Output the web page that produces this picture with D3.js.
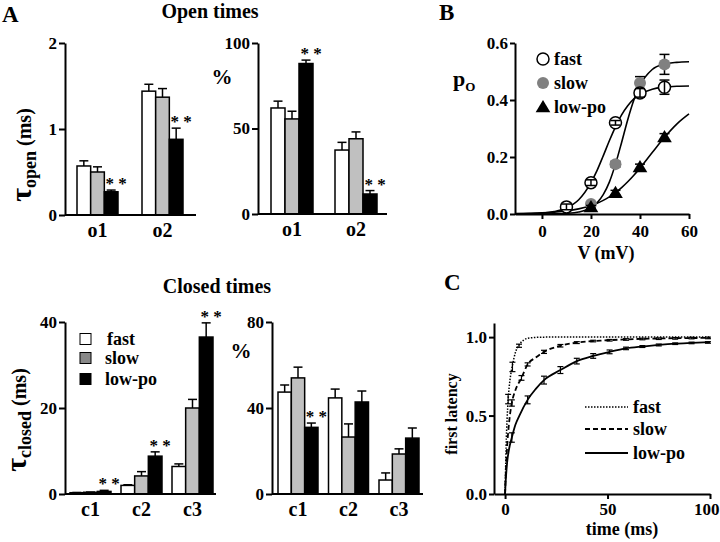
<!DOCTYPE html>
<html><head><meta charset="utf-8">
<script src="https://cdn.jsdelivr.net/npm/d3@7"></script>
<style>
body{margin:0;background:#fff}
svg{display:block}
text{font-family:"Liberation Serif","Times New Roman",serif;font-weight:bold;fill:#000}
</style>
</head><body>
<svg id="chart" width="720" height="542"></svg>
<script>
// ---------- DATA ----------
const groups = ["fast", "slow", "low-po"];
const openCats = ["o1", "o2"];
const closedCats = ["c1", "c2", "c3"];
// [fast, slow, low-po] per category
const openTauMean = [[0.57, 0.50, 0.27], [1.44, 1.37, 0.88]];
const openTauErr  = [[0.06, 0.06, 0.02], [0.08, 0.10, 0.13]];
const openPctMean = [[62, 55.6, 88], [37.4, 44, 11.7]];
const openPctErr  = [[4, 4.5, 2], [4.5, 4, 2]];
const closedTauMean = [[0.3, 0.4, 0.6], [2.0, 4.2, 8.8], [6.4, 20, 36.5]];
const closedTauErr  = [[0.05, 0.05, 0.25], [0.15, 1.0, 1.0], [0.6, 2.0, 3.3]];
const closedPctMean = [[47.4, 54, 31], [44.7, 26.5, 42.8], [6.5, 18.6, 26]];
const closedPctErr  = [[3.3, 5, 2], [4.1, 6.1, 5.1], [3.3, 2.4, 4.7]];
const openTauSig = [true, true];
const openPctSig = [true, true];
const closedTauSig = [true, true, true];
const closedPctSig = [true, false, false];
const openTauTicks = [0, 1, 2];
const openPctTicks = [0, 50, 100];
const closedTauTicks = [0, 20, 40];
const closedPctTicks = [0, 40, 80];

// Panel B: open probability vs voltage
const bFastV = [10, 20, 30, 40, 50];
const bFastPo = [0.025, 0.11, 0.32, 0.425, 0.445];
const bFastErr = [0.01, 0.01, 0.008, 0.015, 0.025];
const bSlowV = [20, 30, 40, 50];
const bSlowPo = [0.035, 0.175, 0.46, 0.525];
const bSlowErr = [0.008, 0.01, 0.022, 0.035];
const bLowV = [20, 30, 40, 50];
const bLowPo = [0.025, 0.075, 0.165, 0.27];
const bLowErr = [0.005, 0.008, 0.01, 0.012];
const bCurveV = [-11, -5, 0, 5, 10, 15, 20, 22.5, 25, 27.5, 30, 32.5, 35, 37.5, 40, 45, 50, 55, 60];
const bFastCurve = [0.0004, 0.0013, 0.0033, 0.0084, 0.021, 0.050, 0.110, 0.153, 0.204, 0.257, 0.306, 0.348, 0.380, 0.404, 0.420, 0.438, 0.445, 0.448, 0.449];
const bSlowCurve = [0, 0, 0.0002, 0.0006, 0.0021, 0.0069, 0.0224, 0.0395, 0.068, 0.112, 0.175, 0.251, 0.331, 0.400, 0.451, 0.507, 0.526, 0.532, 0.534];
const bLowCurve  = [0.0012, 0.0023, 0.0038, 0.0065, 0.0108, 0.018, 0.0296, 0.0377, 0.0478, 0.060, 0.075, 0.0925, 0.113, 0.136, 0.161, 0.2155, 0.269, 0.3155, 0.351];
const bXTicks = [0, 20, 40, 60];
const bYTicks = [0, 0.2, 0.4, 0.6];

// Panel C: first latency cumulative
const cFastT = [0, 0.25, 0.5, 1, 1.5, 2, 3, 3.6, 5, 6.8, 9, 12, 20, 40, 60, 80, 100];
const cFastY = [0, 0.15, 0.3, 0.48, 0.6, 0.68, 0.78, 0.82, 0.9, 0.95, 0.98, 0.995, 1, 1, 1, 1, 1];
const cSlowT = [0, 0.25, 0.5, 1, 2, 3.3, 5, 8, 11, 15, 19, 27, 35, 50, 70, 100];
const cSlowY = [0, 0.1, 0.18, 0.3, 0.46, 0.58, 0.66, 0.74, 0.826, 0.87, 0.906, 0.945, 0.965, 0.98, 0.99, 0.995];
const cLowT = [0, 0.25, 0.5, 1, 2, 3.3, 5, 7, 11, 15, 19, 27, 35, 43, 51, 59, 67, 75, 83, 91, 100];
const cLowY = [0, 0.07, 0.12, 0.2, 0.29, 0.36, 0.44, 0.5, 0.6, 0.67, 0.726, 0.79, 0.847, 0.88, 0.906, 0.928, 0.94, 0.95, 0.958, 0.963, 0.968];
const cFastErrT = [1.5, 3.6, 6.8];
const cFastErrY = [0.605, 0.81, 0.945];
const cFastErrE = [0.03, 0.03, 0.01];
const cSlowErrT = [3.3, 8, 11, 19, 27, 35, 43, 51, 59, 67, 75, 83, 91, 99];
const cSlowErrY = [0.58, 0.74, 0.826, 0.906, 0.945, 0.965, 0.975, 0.98, 0.985, 0.988, 0.99, 0.992, 0.994, 0.995];
const cSlowErrE = [0.02, 0.015, 0.01, 0.01, 0.008, 0.006, 0.005, 0.005, 0.005, 0.005, 0.005, 0.005, 0.005, 0.005];
const cLowErrT = [3.3, 11, 19, 27, 35, 43, 51, 59, 67, 75, 83, 91, 99];
const cLowErrY = [0.36, 0.6, 0.726, 0.79, 0.847, 0.88, 0.906, 0.928, 0.94, 0.95, 0.958, 0.963, 0.966];
const cLowErrE = [0.03, 0.025, 0.025, 0.022, 0.018, 0.015, 0.012, 0.008, 0.006, 0.006, 0.005, 0.005, 0.005];
const cXTicks = [0, 50, 100];
const cYTicks = [0, 0.5, 1.0];

// ---------- DRAWING ----------
const svg = d3.select("#chart");
const barFill = ["#ffffff", "#c0c0c0", "#000000"];

function styleAxis(g, fs) {
  g.selectAll("path,line").attr("stroke", "#000").attr("stroke-width", 2);
  g.selectAll("text").style("font-size", fs + "px").style("font-weight", "bold")
    .style("font-family", '"Liberation Serif","Times New Roman",serif').attr("fill", "#000");
}

function barChart(o) {
  const y = d3.scaleLinear().domain(o.yDomain).range(o.yRange);
  const n = o.cats.length;
  const x = d3.scaleBand().domain(o.cats)
    .range([o.bandStart, o.bandStart + o.step * (n - 1) + o.bw])
    .paddingInner(1 - o.bw / o.step).paddingOuter(0);
  const xi = d3.scaleBand().domain([0, 1, 2]).range([0, x.bandwidth()]).padding(0);
  const g = svg.append("g");
  o.cats.forEach((c, ci) => {
    [0, 1, 2].forEach(si => {
      const v = o.means[ci][si], e = o.errs[ci][si];
      const bx = x(c) + xi(si), bw = xi.bandwidth();
      const cx = bx + bw / 2;
      g.append("line").attr("x1", cx).attr("x2", cx).attr("y1", y(v)).attr("y2", y(v + e))
        .attr("stroke", "#000").attr("stroke-width", 1.5);
      g.append("line").attr("x1", cx - 4.5).attr("x2", cx + 4.5).attr("y1", y(v + e)).attr("y2", y(v + e))
        .attr("stroke", "#000").attr("stroke-width", 1.5);
      g.append("rect").attr("x", bx).attr("y", y(v)).attr("width", bw).attr("height", y(0) - y(v))
        .attr("fill", barFill[si]).attr("stroke", "#000").attr("stroke-width", 1.5);
    });
    if (o.sig[ci]) {
      const bx = x(c) + xi(2) + xi.bandwidth() / 2 + 5;
      const top = y(o.means[ci][2] + o.errs[ci][2]);
      g.append("text").attr("x", bx).attr("y", top - 1).attr("text-anchor", "middle")
        .style("font-size", "17px").text("* *");
    }
  });
  const ya = g.append("g").attr("transform", `translate(${o.axisX},0)`)
    .call(d3.axisLeft(y).tickValues(o.ticks).tickSize(6).tickSizeOuter(0).tickPadding(2).tickFormat(d3.format("d")));
  styleAxis(ya, 17);
  g.append("line").attr("x1", o.axisX).attr("x2", o.axisEnd).attr("y1", y(0)).attr("y2", y(0))
    .attr("stroke", "#000").attr("stroke-width", 2);
  const xa = g.append("g").attr("transform", `translate(0,${y(0)})`)
    .call(d3.axisBottom(x).tickSize(0).tickPadding(8));
  xa.select(".domain").remove();
  styleAxis(xa, 20);
  return g;
}

barChart({cats: openCats, means: openTauMean, errs: openTauErr, sig: openTauSig, yDomain: [0, 2], yRange: [215, 43],
  ticks: openTauTicks, axisX: 65, axisEnd: 196, bandStart: 77, step: 65, bw: 41});
barChart({cats: openCats, means: openPctMean, errs: openPctErr, sig: openPctSig, yDomain: [0, 100], yRange: [214, 43],
  ticks: openPctTicks, axisX: 258, axisEnd: 387, bandStart: 271, step: 64, bw: 42});
barChart({cats: closedCats, means: closedTauMean, errs: closedTauErr, sig: closedTauSig, yDomain: [0, 40], yRange: [494, 322],
  ticks: closedTauTicks, axisX: 65, axisEnd: 216, bandStart: 70, step: 51, bw: 41});
barChart({cats: closedCats, means: closedPctMean, errs: closedPctErr, sig: closedPctSig, yDomain: [0, 80], yRange: [494, 322],
  ticks: closedPctTicks, axisX: 272, axisEnd: 423, bandStart: 278, step: 50.5, bw: 40});

// titles and labels, panel A
svg.append("text").attr("x", 2).attr("y", 22).style("font-size", "23px").text("A");
svg.append("text").attr("x", 210).attr("y", 18).attr("text-anchor", "middle").style("font-size", "20px").text("Open times");
svg.append("text").attr("x", 217).attr("y", 293).attr("text-anchor", "middle").style("font-size", "20px").text("Closed times");
svg.append("text").attr("x", 222).attr("y", 84).attr("text-anchor", "middle").style("font-size", "21px").text("%");
svg.append("text").attr("x", 241).attr("y", 358).attr("text-anchor", "middle").style("font-size", "21px").text("%");

function tauLabel(x, y, sub) {
  const t = svg.append("text").attr("transform", `translate(${x},${y}) rotate(-90)`).attr("text-anchor", "middle");
  t.append("tspan").style("font-size", "30px").text("\u03C4");
  t.append("tspan").style("font-size", "18px").attr("dy", 5).text(sub);
  t.append("tspan").style("font-size", "20px").attr("dy", -5).text(" (ms)");
}
tauLabel(31, 155, "open");
tauLabel(26, 420, "closed");

// closed legend
const legY = [339, 358, 379];
const legFill = ["#ffffff", "#888888", "#000000"];
groups.forEach((gname, i) => {
  svg.append("rect").attr("x", 80).attr("y", legY[i] - 5.5).attr("width", 11).attr("height", 11)
    .attr("fill", legFill[i]).attr("stroke", "#000").attr("stroke-width", 1);
  svg.append("text").attr("x", i === 0 ? 107 : 105).attr("y", legY[i] + 6).style("font-size", "18px").text(gname);
});

// ---------- Panel B ----------
const bx = d3.scaleLinear().domain([-11, 60]).range([515, 689]);
const by = d3.scaleLinear().domain([0, 0.6]).range([214, 43]);
svg.append("text").attr("x", 439).attr("y", 20).style("font-size", "23px").text("B");
const bLine = d3.line().x(d => bx(d[0])).y(d => by(d[1])).curve(d3.curveMonotoneX);
[bFastCurve, bSlowCurve, bLowCurve].forEach(arr => {
  svg.append("path").attr("d", bLine(bCurveV.map((v, i) => [v, arr[i]])))
    .attr("fill", "none").attr("stroke", "#000").attr("stroke-width", 1.6);
});
function errB(V, P, E) {
  V.forEach((v, i) => {
    const x = bx(v);
    svg.append("line").attr("x1", x).attr("x2", x).attr("y1", by(P[i] - E[i])).attr("y2", by(P[i] + E[i])).attr("stroke", "#000").attr("stroke-width", 1.5);
    [P[i] - E[i], P[i] + E[i]].forEach(q => svg.append("line").attr("x1", x - 5).attr("x2", x + 5).attr("y1", by(q)).attr("y2", by(q)).attr("stroke", "#000").attr("stroke-width", 1.5));
  });
}
function triPath(cx, cy, s) {
  return `M${cx},${cy - s}L${cx + s * 1.05},${cy + s * 0.75}L${cx - s * 1.05},${cy + s * 0.75}Z`;
}
errB(bSlowV, bSlowPo, bSlowErr);
bSlowV.forEach((v, i) => svg.append("circle").attr("cx", bx(v)).attr("cy", by(bSlowPo[i])).attr("r", 6).attr("fill", "#808080"));
bFastV.forEach((v, i) => svg.append("circle").attr("cx", bx(v)).attr("cy", by(bFastPo[i])).attr("r", 6).attr("fill", "#fff").attr("stroke", "#000").attr("stroke-width", 1.5));
errB(bFastV, bFastPo, bFastErr);
errB(bLowV, bLowPo, bLowErr);
bLowV.forEach((v, i) => svg.append("path").attr("d", triPath(bx(v), by(bLowPo[i]), 7)).attr("fill", "#000"));

const bya = svg.append("g").attr("transform", "translate(515,0)")
  .call(d3.axisLeft(by).tickValues(bYTicks).tickSize(5).tickSizeOuter(0).tickPadding(2).tickFormat(d3.format(".1f")));
styleAxis(bya, 17);
const bxa = svg.append("g").attr("transform", "translate(0,214)")
  .call(d3.axisBottom(bx).tickValues(bXTicks).tickSize(5).tickSizeOuter(0).tickPadding(6).tickFormat(d3.format("d")));
styleAxis(bxa, 17);
svg.append("text").attr("x", 606).attr("y", 259).attr("text-anchor", "middle").style("font-size", "18px").text("V (mV)");
const po = svg.append("text").attr("x", 453).attr("y", 86).style("font-size", "22px");
po.append("tspan").text("p");
po.append("tspan").attr("dy", 5).style("font-size", "13px").text("O");
const bLegY = [59, 83, 107];
svg.append("circle").attr("cx", 543).attr("cy", bLegY[0]).attr("r", 6).attr("fill", "#fff").attr("stroke", "#000").attr("stroke-width", 1.5);
svg.append("circle").attr("cx", 543).attr("cy", bLegY[1]).attr("r", 6).attr("fill", "#808080");
svg.append("path").attr("d", triPath(543, bLegY[2], 7)).attr("fill", "#000");
groups.forEach((gname, i) => svg.append("text").attr("x", 554).attr("y", bLegY[i] + 6).style("font-size", "18px").text(gname));

// ---------- Panel C ----------
const cx = d3.scaleLinear().domain([-5.4, 100]).range([494, 710]);
const cy = d3.scaleLinear().domain([0, 1.09]).range([494, 323]);
svg.append("text").attr("x", 444).attr("y", 290).style("font-size", "23px").text("C");
const cLine = d3.line().x(d => cx(d[0])).y(d => cy(d[1])).curve(d3.curveMonotoneX);
const cStyles = [{dash: "1.5,1.5", w: 1.5}, {dash: "5,3", w: 1.8}, {dash: null, w: 1.8}];
[[cFastT, cFastY], [cSlowT, cSlowY], [cLowT, cLowY]].forEach((s, k) => {
  svg.append("path").attr("d", cLine(s[0].map((t, i) => [t, s[1][i]])))
    .attr("fill", "none").attr("stroke", "#000").attr("stroke-width", cStyles[k].w)
    .attr("stroke-dasharray", cStyles[k].dash);
});
function errC(T, Y, E) {
  T.forEach((t, i) => {
    const x = cx(t);
    svg.append("line").attr("x1", x).attr("x2", x).attr("y1", cy(Y[i] - E[i])).attr("y2", cy(Y[i] + E[i])).attr("stroke", "#000").attr("stroke-width", 1.2);
    [Y[i] - E[i], Y[i] + E[i]].forEach(q => svg.append("line").attr("x1", x - 3).attr("x2", x + 3).attr("y1", cy(q)).attr("y2", cy(q)).attr("stroke", "#000").attr("stroke-width", 1.2));
  });
}
errC(cFastErrT, cFastErrY, cFastErrE);
errC(cSlowErrT, cSlowErrY, cSlowErrE);
errC(cLowErrT, cLowErrY, cLowErrE);
const cya = svg.append("g").attr("transform", "translate(494,0)")
  .call(d3.axisLeft(cy).tickValues(cYTicks).tickSize(5).tickSizeOuter(0).tickPadding(2).tickFormat(d3.format(".1f")));
styleAxis(cya, 17);
const cxa = svg.append("g").attr("transform", "translate(0,494)")
  .call(d3.axisBottom(cx).tickValues(cXTicks).tickSize(5).tickSizeOuter(0).tickPadding(4).tickFormat(d3.format("d")));
styleAxis(cxa, 17);
cxa.selectAll(".tick text").filter(d => d === 100).attr("text-anchor", "end").attr("dx", 9);
svg.append("text").attr("x", 622).attr("y", 535).attr("text-anchor", "middle").style("font-size", "18px").text("time (ms)");
svg.append("text").attr("transform", "translate(457,414) rotate(-90)").attr("text-anchor", "middle").style("font-size", "16px").text("first latency");
const cLegY = [407, 429, 453];
groups.forEach((gname, i) => {
  svg.append("line").attr("x1", 585).attr("x2", 628).attr("y1", cLegY[i]).attr("y2", cLegY[i])
    .attr("stroke", "#000").attr("stroke-width", cStyles[i].w).attr("stroke-dasharray", cStyles[i].dash);
  svg.append("text").attr("x", 633).attr("y", cLegY[i] + 6).style("font-size", "18px").text(gname);
});
</script>
</body></html>
